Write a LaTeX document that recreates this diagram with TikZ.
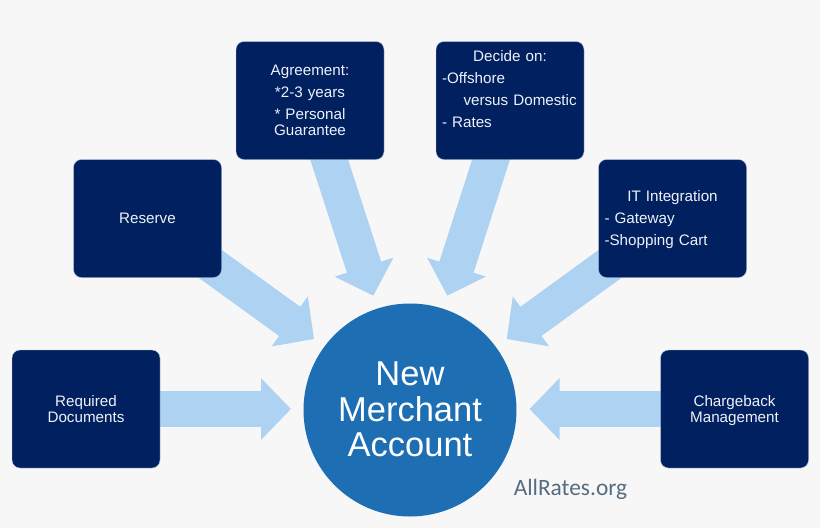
\documentclass[tikz,border=0pt]{standalone}
\usepackage{fontspec}
\setmainfont{Liberation Sans}
\newfontfamily\logofont{Carlito}
\usetikzlibrary{arrows.meta,backgrounds}
\definecolor{pagegrey}{HTML}{F7F7F8}
\definecolor{boxnavy}{HTML}{002060}
\definecolor{boxedge}{HTML}{B8C8DE}
\definecolor{boxtext}{HTML}{EEF2F8}
\definecolor{flowblue}{HTML}{AED2F2}
\definecolor{hubblue}{HTML}{1E6EB3}
\definecolor{logogrey}{HTML}{566C80}
\begin{document}
\begin{tikzpicture}
	 [x=1pt,y=-1pt,
	 box/.style={rectangle,rounded corners=8pt,fill=boxnavy,draw=boxedge,line width=.4pt,text=boxtext,minimum width=148pt,minimum height=118pt,inner sep=0pt,text width=136pt,align=center,font=\fontsize{15.2}{16}\selectfont},
	 flow/.style={draw=flowblue,line width=36pt,-{Triangle[length=30pt,width=60pt]}}]
	\useasboundingbox (0,0) rectangle (820,528);

	  \node[box] (docs) at (86,409) {Required\\Documents};
	  \node[box] (reserve) at (147.5,218.5) {Reserve};
	  \node[box] (agree) at (310,100.5) {Agreement:\\[6pt]*2-3 years\\[6pt]* Personal\\Guarantee};
	  \node[box,align=left] (decide) at (510,100.5) {\makebox[136pt]{Decide on:}\\[6pt]-Offshore\\[6pt]\hspace*{21.5pt}versus Domestic\\[6pt]- Rates\\[8pt]\mbox{}};
	  \node[box,align=left] (integ) at (672.5,218.5) {\rule{0pt}{14pt}\makebox[136pt]{IT Integration}\\[6pt]- Gateway\\[6pt]-Shopping Cart};
	  \node[box] (charge) at (734.5,409) {\rule{0pt}{15pt}Chargeback\\Management};

	  \node[circle,fill=hubblue,text=white,minimum size=213pt,inner sep=0pt,align=center,font=\fontsize{34.5}{35.5}\selectfont] (hub) at (410,410) {\raisebox{1pt}{New}\\\raisebox{1pt}{Merchant}\\\raisebox{1pt}{Account}};

	  \node[text=logogrey,inner sep=0pt,font=\logofont\fontsize{23.4}{24}\selectfont] (logo) at (570.5,489) {AllRates.org};

	  \coordinate (t1) at (291,409);
	  \coordinate (t2) at (314,339);
	  \coordinate (t3) at (373.3,295.7);
	  \coordinate (t4) at (447.3,295.7);
	  \coordinate (t5) at (506.7,339);
	  \coordinate (t6) at (529.5,409);

	\begin{pgfonlayer}{background}
	\fill[pagegrey] (0,0) rectangle (820,528);
	\foreach \from/\to in {docs/t1,reserve/t2,agree/t3,decide/t4,integ/t5,charge/t6}
    \draw[flow] (\from.center) -- (\to);
	\end{pgfonlayer}

\end{tikzpicture}
\end{document}
